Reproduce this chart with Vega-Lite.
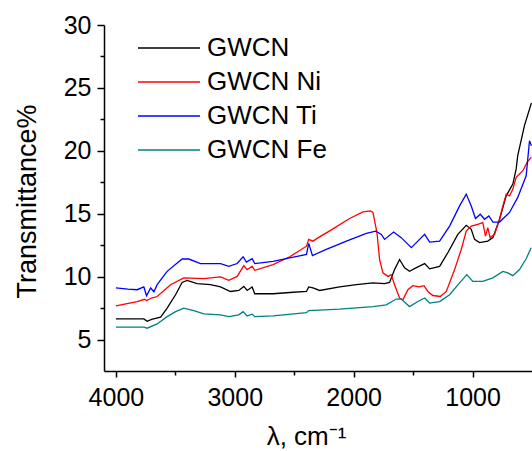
{
 "$schema": "https://vega.github.io/schema/vega-lite/v6.json",
 "width": 428,
 "height": 346,
 "autosize": "none",
 "padding": {"left": 104, "top": 25, "right": 0, "bottom": 80},
 "background": "white",
 "config": {
  "view": {"stroke": null},
  "font": "Liberation Sans",
  "axis": {"grid": false, "domainColor": "black", "tickColor": "black", "labelColor": "black", "titleColor": "black", "domainWidth": 1.5, "tickWidth": 1.5, "labelFont": "Liberation Sans", "titleFont": "Liberation Sans", "titleFontWeight": "normal"}
 },
 "datasets": {
  "ir": [
   {"s":"GWCN","x":4000,"y":6.64},{"s":"GWCN","x":3850,"y":6.64},{"s":"GWCN","x":3765,"y":6.64},{"s":"GWCN","x":3737,"y":6.45},{"s":"GWCN","x":3700,"y":6.6},{"s":"GWCN","x":3624,"y":6.78},{"s":"GWCN","x":3569,"y":7.5},{"s":"GWCN","x":3498,"y":8.56},{"s":"GWCN","x":3443,"y":9.54},{"s":"GWCN","x":3401,"y":9.7},{"s":"GWCN","x":3317,"y":9.44},{"s":"GWCN","x":3204,"y":9.36},{"s":"GWCN","x":3120,"y":9.18},{"s":"GWCN","x":3036,"y":8.82},{"s":"GWCN","x":2966,"y":8.9},{"s":"GWCN","x":2924,"y":9.22},{"s":"GWCN","x":2896,"y":8.9},{"s":"GWCN","x":2854,"y":9.18},{"s":"GWCN","x":2832,"y":8.64},{"s":"GWCN","x":2678,"y":8.64},{"s":"GWCN","x":2538,"y":8.74},{"s":"GWCN","x":2397,"y":8.82},{"s":"GWCN","x":2378,"y":9.18},{"s":"GWCN","x":2342,"y":9.1},{"s":"GWCN","x":2286,"y":8.9},{"s":"GWCN","x":2118,"y":9.18},{"s":"GWCN","x":1977,"y":9.36},{"s":"GWCN","x":1838,"y":9.5},{"s":"GWCN","x":1740,"y":9.44},{"s":"GWCN","x":1698,"y":9.54},{"s":"GWCN","x":1656,"y":10.56},{"s":"GWCN","x":1614,"y":11.36},{"s":"GWCN","x":1572,"y":10.7},{"s":"GWCN","x":1530,"y":10.42},{"s":"GWCN","x":1460,"y":10.78},{"s":"GWCN","x":1403,"y":11.04},{"s":"GWCN","x":1361,"y":10.62},{"s":"GWCN","x":1277,"y":10.82},{"s":"GWCN","x":1208,"y":11.9},{"s":"GWCN","x":1124,"y":13.36},{"s":"GWCN","x":1053,"y":14.08},{"s":"GWCN","x":1011,"y":13.76},{"s":"GWCN","x":983,"y":12.96},{"s":"GWCN","x":941,"y":12.7},{"s":"GWCN","x":872,"y":12.82},{"s":"GWCN","x":829,"y":13.1},{"s":"GWCN","x":773,"y":14.56},{"s":"GWCN","x":717,"y":16.42},{"s":"GWCN","x":661,"y":17.36},{"s":"GWCN","x":633,"y":18.56},{"s":"GWCN","x":620,"y":19.62},{"s":"GWCN","x":563,"y":22.02},{"s":"GWCN","x":505,"y":23.8},
   {"s":"GWCN Ni","x":4000,"y":7.68},{"s":"GWCN Ni","x":3821,"y":8.02},{"s":"GWCN Ni","x":3760,"y":8.2},{"s":"GWCN Ni","x":3742,"y":8.1},{"s":"GWCN Ni","x":3700,"y":8.3},{"s":"GWCN Ni","x":3653,"y":8.42},{"s":"GWCN Ni","x":3540,"y":9.36},{"s":"GWCN Ni","x":3429,"y":9.9},{"s":"GWCN Ni","x":3260,"y":9.84},{"s":"GWCN Ni","x":3120,"y":9.98},{"s":"GWCN Ni","x":3050,"y":9.7},{"s":"GWCN Ni","x":2980,"y":10.02},{"s":"GWCN Ni","x":2924,"y":10.88},{"s":"GWCN Ni","x":2896,"y":10.56},{"s":"GWCN Ni","x":2854,"y":10.82},{"s":"GWCN Ni","x":2832,"y":10.5},{"s":"GWCN Ni","x":2678,"y":10.96},{"s":"GWCN Ni","x":2538,"y":11.58},{"s":"GWCN Ni","x":2397,"y":12.42},{"s":"GWCN Ni","x":2378,"y":12.96},{"s":"GWCN Ni","x":2342,"y":12.82},{"s":"GWCN Ni","x":2314,"y":13.0},{"s":"GWCN Ni","x":2174,"y":13.8},{"s":"GWCN Ni","x":2034,"y":14.62},{"s":"GWCN Ni","x":1922,"y":15.14},{"s":"GWCN Ni","x":1860,"y":15.22},{"s":"GWCN Ni","x":1838,"y":15.1},{"s":"GWCN Ni","x":1804,"y":13.5},{"s":"GWCN Ni","x":1782,"y":11.36},{"s":"GWCN Ni","x":1754,"y":10.3},{"s":"GWCN Ni","x":1712,"y":10.02},{"s":"GWCN Ni","x":1684,"y":10.16},{"s":"GWCN Ni","x":1656,"y":9.36},{"s":"GWCN Ni","x":1614,"y":8.3},{"s":"GWCN Ni","x":1586,"y":8.16},{"s":"GWCN Ni","x":1544,"y":8.96},{"s":"GWCN Ni","x":1502,"y":9.28},{"s":"GWCN Ni","x":1451,"y":9.18},{"s":"GWCN Ni","x":1409,"y":9.28},{"s":"GWCN Ni","x":1376,"y":8.82},{"s":"GWCN Ni","x":1334,"y":8.5},{"s":"GWCN Ni","x":1272,"y":8.42},{"s":"GWCN Ni","x":1221,"y":8.82},{"s":"GWCN Ni","x":1151,"y":10.56},{"s":"GWCN Ni","x":1095,"y":12.16},{"s":"GWCN Ni","x":1053,"y":13.62},{"s":"GWCN Ni","x":1011,"y":14.02},{"s":"GWCN Ni","x":956,"y":14.16},{"s":"GWCN Ni","x":914,"y":14.3},{"s":"GWCN Ni","x":891,"y":13.22},{"s":"GWCN Ni","x":872,"y":13.9},{"s":"GWCN Ni","x":852,"y":13.1},{"s":"GWCN Ni","x":815,"y":13.36},{"s":"GWCN Ni","x":773,"y":14.56},{"s":"GWCN Ni","x":745,"y":15.62},{"s":"GWCN Ni","x":717,"y":16.56},{"s":"GWCN Ni","x":689,"y":16.42},{"s":"GWCN Ni","x":661,"y":16.96},{"s":"GWCN Ni","x":633,"y":17.9},{"s":"GWCN Ni","x":577,"y":18.42},{"s":"GWCN Ni","x":540,"y":19.1},{"s":"GWCN Ni","x":505,"y":19.5},
   {"s":"GWCN Ti","x":4000,"y":9.1},{"s":"GWCN Ti","x":3900,"y":9.0},{"s":"GWCN Ti","x":3821,"y":8.96},{"s":"GWCN Ti","x":3765,"y":9.18},{"s":"GWCN Ti","x":3742,"y":8.48},{"s":"GWCN Ti","x":3708,"y":9.1},{"s":"GWCN Ti","x":3680,"y":8.8},{"s":"GWCN Ti","x":3653,"y":9.36},{"s":"GWCN Ti","x":3569,"y":10.42},{"s":"GWCN Ti","x":3443,"y":11.4},{"s":"GWCN Ti","x":3387,"y":11.4},{"s":"GWCN Ti","x":3288,"y":11.04},{"s":"GWCN Ti","x":3120,"y":11.04},{"s":"GWCN Ti","x":3050,"y":10.82},{"s":"GWCN Ti","x":2980,"y":11.04},{"s":"GWCN Ti","x":2930,"y":11.58},{"s":"GWCN Ti","x":2902,"y":11.15},{"s":"GWCN Ti","x":2854,"y":11.42},{"s":"GWCN Ti","x":2832,"y":11.04},{"s":"GWCN Ti","x":2678,"y":11.22},{"s":"GWCN Ti","x":2538,"y":11.5},{"s":"GWCN Ti","x":2397,"y":11.76},{"s":"GWCN Ti","x":2378,"y":12.64},{"s":"GWCN Ti","x":2347,"y":11.68},{"s":"GWCN Ti","x":2230,"y":12.16},{"s":"GWCN Ti","x":2061,"y":12.82},{"s":"GWCN Ti","x":1893,"y":13.44},{"s":"GWCN Ti","x":1815,"y":13.62},{"s":"GWCN Ti","x":1767,"y":13.36},{"s":"GWCN Ti","x":1740,"y":12.96},{"s":"GWCN Ti","x":1664,"y":13.54},{"s":"GWCN Ti","x":1600,"y":13.1},{"s":"GWCN Ti","x":1515,"y":12.3},{"s":"GWCN Ti","x":1460,"y":12.82},{"s":"GWCN Ti","x":1403,"y":13.36},{"s":"GWCN Ti","x":1361,"y":12.74},{"s":"GWCN Ti","x":1277,"y":12.82},{"s":"GWCN Ti","x":1193,"y":14.02},{"s":"GWCN Ti","x":1109,"y":15.62},{"s":"GWCN Ti","x":1053,"y":16.56},{"s":"GWCN Ti","x":1011,"y":15.62},{"s":"GWCN Ti","x":975,"y":14.62},{"s":"GWCN Ti","x":935,"y":14.96},{"s":"GWCN Ti","x":899,"y":14.56},{"s":"GWCN Ti","x":863,"y":14.82},{"s":"GWCN Ti","x":829,"y":14.34},{"s":"GWCN Ti","x":773,"y":14.34},{"s":"GWCN Ti","x":689,"y":15.1},{"s":"GWCN Ti","x":620,"y":16.3},{"s":"GWCN Ti","x":549,"y":18.02},{"s":"GWCN Ti","x":521,"y":20.8},{"s":"GWCN Ti","x":505,"y":20.4},
   {"s":"GWCN Fe","x":4000,"y":5.98},{"s":"GWCN Fe","x":3765,"y":5.98},{"s":"GWCN Fe","x":3737,"y":5.9},{"s":"GWCN Fe","x":3653,"y":6.24},{"s":"GWCN Fe","x":3569,"y":6.82},{"s":"GWCN Fe","x":3498,"y":7.22},{"s":"GWCN Fe","x":3429,"y":7.5},{"s":"GWCN Fe","x":3345,"y":7.3},{"s":"GWCN Fe","x":3260,"y":7.04},{"s":"GWCN Fe","x":3120,"y":6.96},{"s":"GWCN Fe","x":3050,"y":6.82},{"s":"GWCN Fe","x":2966,"y":6.96},{"s":"GWCN Fe","x":2930,"y":7.22},{"s":"GWCN Fe","x":2896,"y":6.88},{"s":"GWCN Fe","x":2854,"y":7.02},{"s":"GWCN Fe","x":2832,"y":6.82},{"s":"GWCN Fe","x":2678,"y":6.88},{"s":"GWCN Fe","x":2397,"y":7.14},{"s":"GWCN Fe","x":2378,"y":7.3},{"s":"GWCN Fe","x":2118,"y":7.42},{"s":"GWCN Fe","x":1838,"y":7.62},{"s":"GWCN Fe","x":1726,"y":7.76},{"s":"GWCN Fe","x":1642,"y":8.22},{"s":"GWCN Fe","x":1600,"y":8.22},{"s":"GWCN Fe","x":1530,"y":7.62},{"s":"GWCN Fe","x":1460,"y":8.02},{"s":"GWCN Fe","x":1403,"y":8.3},{"s":"GWCN Fe","x":1361,"y":7.9},{"s":"GWCN Fe","x":1277,"y":8.02},{"s":"GWCN Fe","x":1193,"y":8.56},{"s":"GWCN Fe","x":1109,"y":9.5},{"s":"GWCN Fe","x":1048,"y":10.16},{"s":"GWCN Fe","x":998,"y":9.62},{"s":"GWCN Fe","x":914,"y":9.62},{"s":"GWCN Fe","x":829,"y":9.9},{"s":"GWCN Fe","x":745,"y":10.42},{"s":"GWCN Fe","x":703,"y":10.3},{"s":"GWCN Fe","x":661,"y":10.08},{"s":"GWCN Fe","x":605,"y":10.56},{"s":"GWCN Fe","x":549,"y":11.42},{"s":"GWCN Fe","x":507,"y":12.3}
  ]
 },
 "data": {"name": "ir"},
 "mark": {"type": "line", "strokeWidth": 1.3, "clip": true},
 "encoding": {
  "x": {
   "field": "x", "type": "quantitative",
   "scale": {"domain": [500, 4100], "reverse": true, "nice": false, "zero": false},
   "axis": {
    "values": [4000, 3500, 3000, 2500, 2000, 1500, 1000],
    "format": "d",
    "labelExpr": "datum.value % 1000 == 0 ? datum.label : ''",
    "tickSize": {"condition": {"test": "datum.value % 1000 == 0", "value": 6}, "value": 4},
    "labelFontSize": 25,
    "labelPadding": 8,
    "labelFlush": false,
    "title": "λ, cm⁻¹",
    "titleFontSize": 26,
    "titleBaseline": "alphabetic",
    "titleAlign": "center",
    "titleX": 202,
    "titleY": 73
   }
  },
  "y": {
   "field": "y", "type": "quantitative",
   "scale": {"domain": [2.5, 30], "nice": false, "zero": false},
   "axis": {
    "values": [5, 7.5, 10, 12.5, 15, 17.5, 20, 22.5, 25, 27.5, 30],
    "labelExpr": "datum.value % 5 == 0 ? datum.label : ''",
    "tickSize": {"condition": {"test": "datum.value % 5 == 0", "value": 7}, "value": 4},
    "labelFontSize": 25,
    "labelPadding": 6,
    "labelFlush": false,
    "title": "Transmittance%",
    "titleFontSize": 27,
    "titleBaseline": "alphabetic",
    "titleAngle": -90,
    "titleAlign": "center",
    "titleX": -69,
    "titleY": 176
   }
  },
  "color": {
   "field": "s", "type": "nominal",
   "scale": {"domain": ["GWCN", "GWCN Ni", "GWCN Ti", "GWCN Fe"], "range": ["#000000", "#ff0000", "#0000ff", "#008080"]},
   "legend": {
    "title": null,
    "orient": "none",
    "legendX": 33,
    "legendY": 9,
    "symbolType": "stroke",
    "symbolSize": 3844,
    "symbolStrokeWidth": 1.3,
    "clipHeight": 28,
    "rowPadding": 6,
    "labelFontSize": 26,
    "labelFont": "Liberation Sans",
    "labelColor": "black",
    "labelOffset": 6,
    "padding": 0
   }
  }
 }
}
